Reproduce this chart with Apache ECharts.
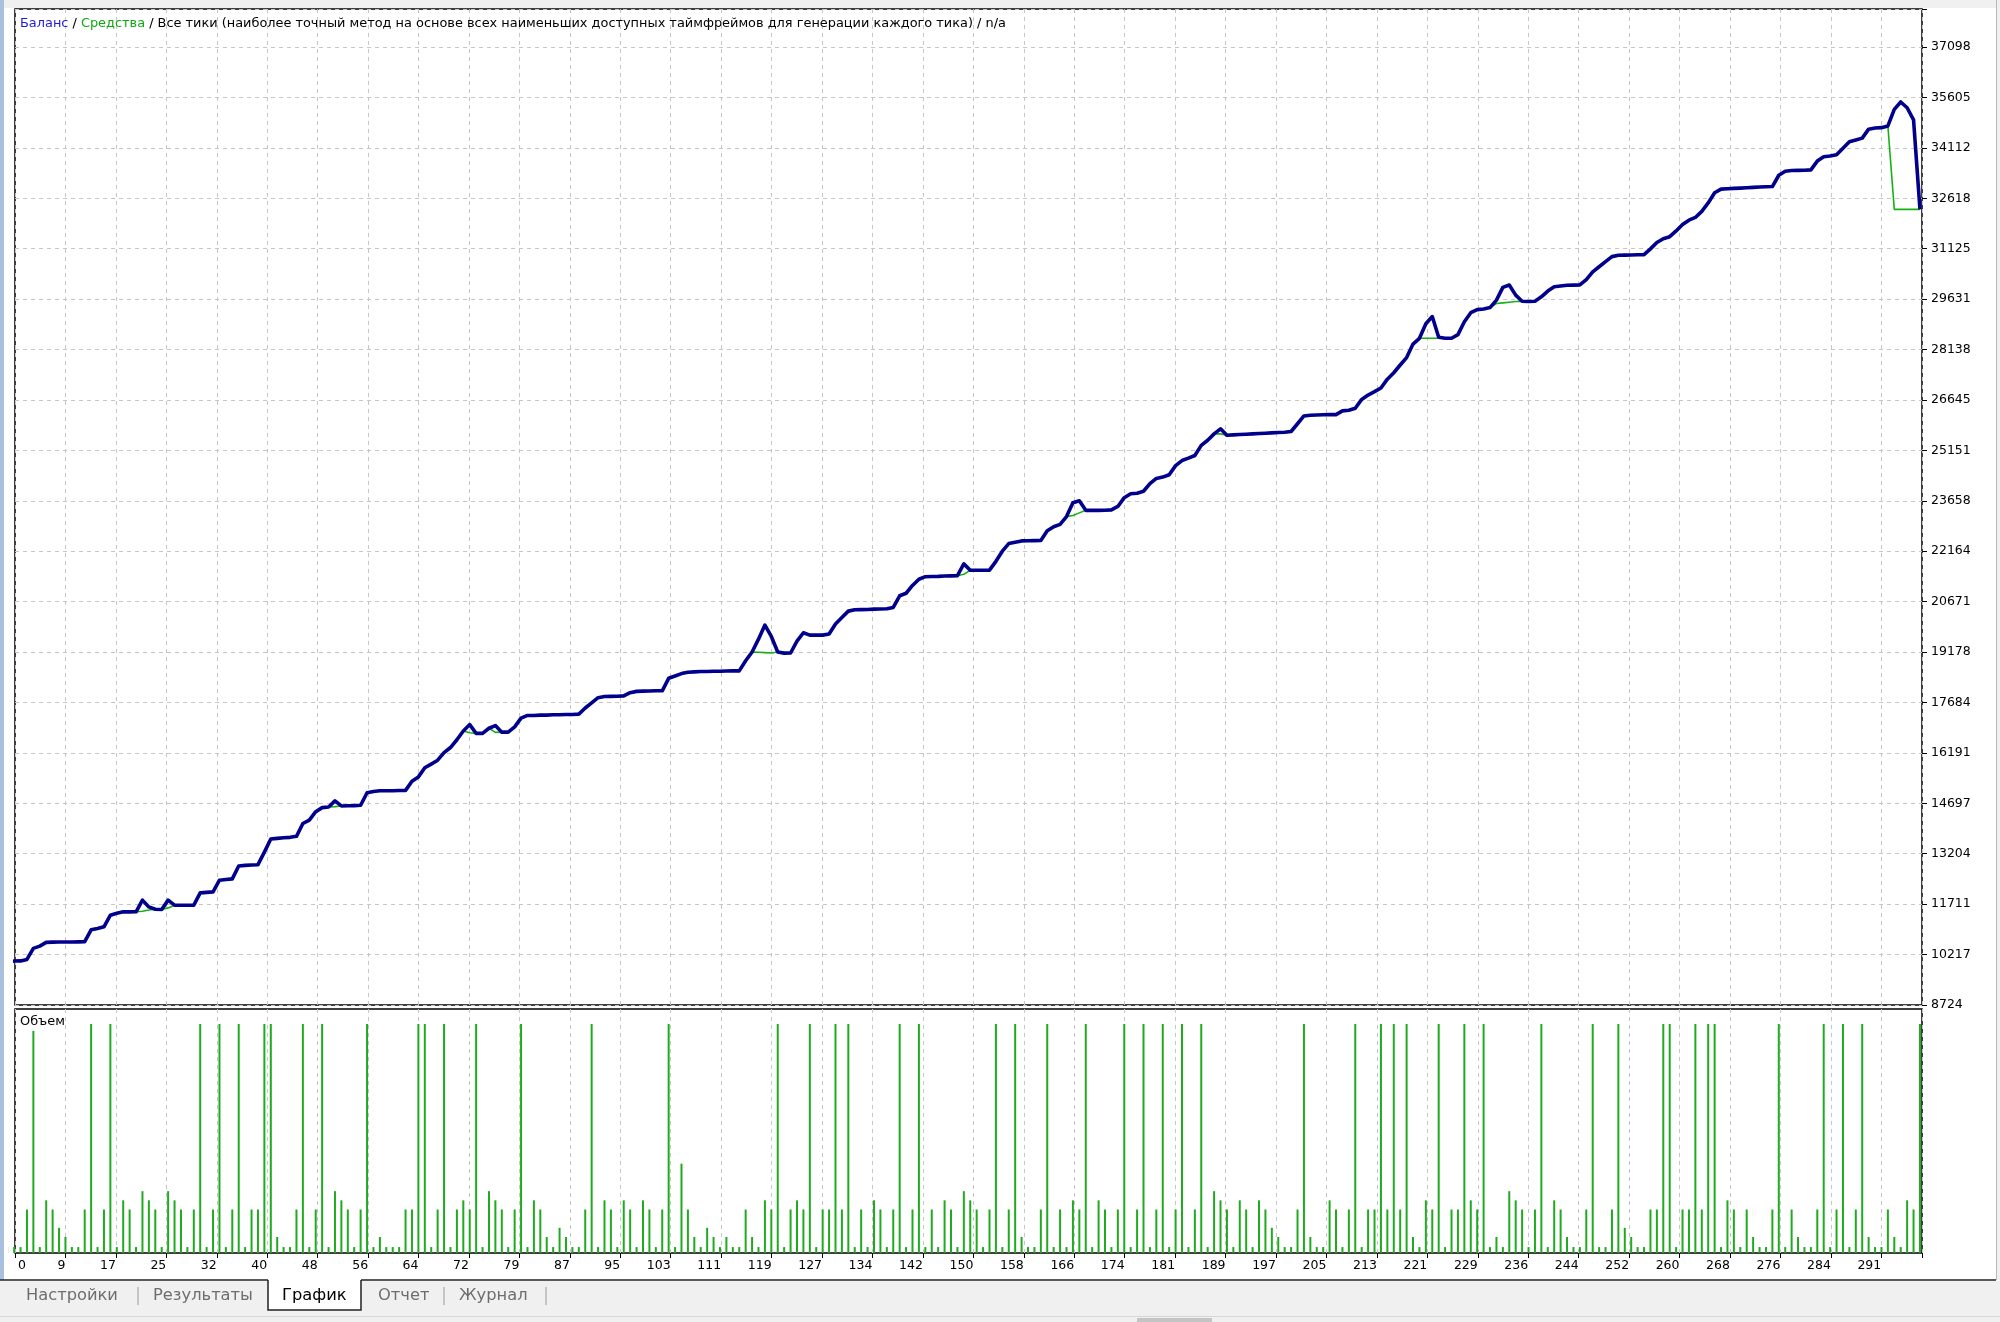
<!DOCTYPE html>
<html><head><meta charset="utf-8">
<script src="https://cdn.jsdelivr.net/npm/echarts@6/dist/echarts.min.js"></script>
<style>html,body{margin:0;padding:0;background:#fff;}#c{width:2000px;height:1322px;}</style>
</head><body><div id="c"></div>
<script>
const yTickLabels = ['8724','10217','11711','13204','14697','16191','17684','19178','20671','22164','23658','25151','26645','28138','29631','31125','32618','34112','35605','37098'];
const xTickLabels = ['0','9','17','25','32','40','48','56','64','72','79','87','95','103','111','119','127','134','142','150','158','166','174','181','189','197','205','213','221','229','236','244','252','260','268','276','284','291'];
const balance = [
10000,10025,10030,10075,10400,10468,10578,10585,10590,10590,
10590,10595,10600,10950,10990,11040,11385,11440,11483,11483,
11485,11830,11630,11560,11554,11830,11680,11680,11680,11680,
12045,12060,12075,12420,12440,12460,12840,12860,12870,12880,
13250,13640,13660,13680,13690,13720,14100,14200,14450,14570,
14590,14770,14620,14625,14630,14640,15010,15050,15068,15068,
15070,15075,15080,15350,15480,15750,15860,15975,16200,16350,
16580,16840,17030,16770,16770,16920,17000,16805,16805,16960,
17220,17300,17300,17310,17310,17320,17320,17330,17330,17340,
17520,17670,17825,17860,17865,17870,17880,17975,18013,18020,
18025,18030,18030,18400,18470,18540,18580,18590,18600,18600,
18610,18610,18615,18620,18620,18920,19180,19560,19976,19640,
19180,19146,19150,19500,19750,19680,19680,19680,19710,20010,
20200,20390,20430,20435,20440,20450,20455,20460,20500,20845,
20920,21150,21335,21410,21415,21420,21430,21435,21440,21790,
21600,21600,21600,21605,21865,22165,22390,22430,22470,22475,
22478,22480,22770,22890,22960,23190,23600,23660,23375,23375,
23375,23380,23390,23490,23750,23866,23880,23940,24165,24320,
24360,24430,24700,24850,24920,25000,25300,25450,25640,25790,
25600,25610,25620,25630,25640,25650,25660,25670,25680,25690,
25710,25940,26170,26190,26200,26205,26210,26210,26320,26340,
26400,26660,26790,26890,27000,27260,27450,27680,27900,28300,
28470,28900,29115,28500,28470,28472,28580,28960,29230,29320,
29340,29380,29600,29980,30050,29750,29570,29560,29570,29700,
29870,30000,30020,30040,30045,30050,30210,30440,30590,30740,
30890,30930,30935,30940,30945,30950,31120,31310,31420,31480,
31650,31840,31970,32050,32230,32480,32780,32890,32900,32910,
32920,32930,32940,32950,32960,32965,33300,33420,33440,33445,
33450,33460,33720,33850,33870,33910,34100,34290,34345,34400,
34665,34700,34710,34760,35250,35470,35300,34940,32290];
const equity = [
10000,10025,10030,10075,10400,10468,10578,10585,10590,10590,
10590,10595,10600,10950,10990,11040,11385,11440,11483,11483,
11485,11500,11540,11560,11554,11600,11680,11680,11680,11680,
12045,12060,12075,12420,12440,12460,12840,12860,12870,12880,
13250,13640,13660,13680,13690,13720,14100,14200,14450,14570,
14590,14600,14620,14625,14630,14640,15010,15050,15068,15068,
15070,15075,15080,15350,15480,15750,15860,15975,16200,16350,
16580,16840,16790,16770,16770,16920,16800,16805,16805,16960,
17220,17300,17300,17310,17310,17320,17320,17330,17330,17340,
17520,17670,17825,17860,17865,17870,17880,17975,18013,18020,
18025,18030,18030,18400,18470,18540,18580,18590,18600,18600,
18610,18610,18615,18620,18620,18920,19180,19170,19160,19150,
19180,19146,19150,19500,19750,19680,19680,19680,19710,20010,
20200,20390,20430,20435,20440,20450,20455,20460,20500,20845,
20920,21150,21335,21410,21415,21420,21430,21435,21440,21480,
21600,21600,21600,21605,21865,22165,22390,22430,22470,22475,
22478,22480,22770,22890,22960,23190,23220,23300,23375,23375,
23375,23380,23390,23490,23750,23866,23880,23940,24165,24320,
24360,24430,24700,24850,24920,25000,25300,25450,25640,25640,
25600,25610,25620,25630,25640,25650,25660,25670,25680,25690,
25710,25940,26170,26190,26200,26205,26210,26210,26320,26340,
26400,26660,26790,26890,27000,27260,27450,27680,27900,28300,
28470,28470,28470,28470,28470,28472,28580,28960,29230,29320,
29340,29380,29500,29520,29540,29560,29570,29560,29570,29700,
29870,30000,30020,30040,30045,30050,30210,30440,30590,30740,
30890,30930,30935,30940,30945,30950,31120,31310,31420,31480,
31650,31840,31970,32050,32230,32480,32780,32890,32900,32910,
32920,32930,32940,32950,32960,32965,33300,33420,33440,33445,
33450,33460,33720,33850,33870,33910,34100,34290,34345,34400,
34665,34700,34710,34760,32290,32290,32290,32290,32290];
const volume = [
2.6,2.6,2.6,19,97,2.6,23,19,11,7,
2.6,2.6,19,100,2.6,19,100,2.6,23,19,
2.6,27,23,19,2.6,27,23,19,2.6,19,
100,2.6,19,100,2.6,19,100,2.6,19,19,
100,100,7,2.6,2.6,19,100,2.6,19,100,
2.6,27,23,19,2.6,19,100,2.6,7,2.6,
2.6,2.6,19,19,100,100,2.6,19,100,2.6,
19,23,19,100,2.6,27,23,19,2.6,19,
100,2.6,23,19,7,2.6,11,7,2.6,2.6,
19,100,2.6,23,19,2.6,23,19,2.6,23,
19,2.6,19,100,2.6,39,19,7,2.6,11,
7,2.6,7,2.6,2.6,19,7,2.6,23,19,
100,2.6,19,23,19,100,2.6,19,19,100,
19,100,2.6,19,2.6,23,19,2.6,19,100,
2.6,19,100,2.6,19,2.6,23,19,2.6,27,
23,19,2.6,19,100,2.6,19,100,7,2.6,
2.6,19,100,2.6,19,2.6,23,19,100,2.6,
23,19,2.6,19,100,2.6,19,100,2.6,19,
100,2.6,19,100,2.6,19,100,2.6,27,23,
19,2.6,23,19,2.6,23,19,11,7,2.6,
2.6,19,100,7,2.6,2.6,23,19,2.6,19,
100,2.6,19,19,100,19,100,19,100,7,
2.6,23,19,100,2.6,19,19,100,23,19,
100,2.6,7,2.6,27,23,19,2.6,19,100,
2.6,23,19,7,2.6,2.6,19,100,2.6,2.6,
19,100,11,7,2.6,2.6,19,19,100,100,
2.6,19,19,100,19,100,100,2.6,23,19,
2.6,19,7,2.6,2.6,19,100,2.6,19,7,
2.6,2.6,19,100,2.6,19,100,2.6,19,100,
7,2.6,2.6,19,7,2.6,23,19,100];

// layout (pixels)
const L = 15, R = 1922, T = 9, B = 1005, VT = 1009, VB = 1253;
const W = R - L;
const X0 = 7.7, PX = 6.417;           // pixel of trade 0, pixels per trade
const XG = 50.44, YG = 50.42;         // grid spacing in pixels
const Y0 = 8724, YSTEP = 1493.37;
const xMin = (L - X0) / PX, xMax = (R - X0) / PX;
const yMax = Y0 + (B - T) / YG * YSTEP;
const volMax = 100 * (VB - VT) / (VB - 1024);
const FONT = 'DejaVu Sans';
const gridLine = {show: true, lineStyle: {color: '#c6c6c6', type: [4, 4], width: 1}};

const chart = echarts.init(document.getElementById('c'), null, {renderer: 'canvas'});
const tabs = [
  {t: 'Настройки', x: 26}, {t: 'Результаты', x: 153}, {t: 'График', x: 282, active: true},
  {t: 'Отчет', x: 378}, {t: 'Журнал', x: 459}
];
const graphic = [
  {type: 'rect', shape: {x: 0, y: 0, width: 2000, height: 8}, style: {fill: '#f0f0f0'}, silent: true},
  {type: 'rect', shape: {x: 0, y: 0, width: 4, height: 1280}, style: {fill: '#a9c1de'}, silent: true},
  {type: 'rect', shape: {x: 1997, y: 0, width: 3, height: 1280}, style: {fill: '#f0f0f0'}, silent: true},
  {type: 'line', shape: {x1: 1996.5, y1: 0, x2: 1996.5, y2: 1280}, style: {stroke: '#b8b8b8', lineWidth: 1}, silent: true},
  {type: 'rect', shape: {x: 0, y: 1281, width: 2000, height: 41}, style: {fill: '#f0f0f0'}, silent: true},
  {type: 'line', shape: {x1: 0, y1: 1316.5, x2: 2000, y2: 1316.5}, style: {stroke: '#d6d6d6', lineWidth: 1}, silent: true},
  {type: 'rect', shape: {x: 1137, y: 1318, width: 75, height: 4}, style: {fill: '#c4c4c4'}, silent: true},
  {type: 'line', shape: {x1: 0, y1: 1280, x2: 268, y2: 1280}, style: {stroke: '#222', lineWidth: 1.5}, silent: true},
  {type: 'line', shape: {x1: 361, y1: 1280, x2: 1996, y2: 1280}, style: {stroke: '#222', lineWidth: 1.5}, silent: true},
  {type: 'rect', shape: {x: 268, y: 1280, width: 93, height: 30}, style: {fill: '#ffffff', stroke: null}, silent: true},
  {type: 'polyline', shape: {points: [[268, 1280], [268, 1310], [361, 1310], [361, 1280]]}, style: {stroke: '#222', lineWidth: 1.5, fill: null}, silent: true},
  {type: 'line', shape: {x1: 138, y1: 1287, x2: 138, y2: 1305}, style: {stroke: '#9a9a9a', lineWidth: 1}, silent: true},
  {type: 'line', shape: {x1: 444, y1: 1287, x2: 444, y2: 1305}, style: {stroke: '#9a9a9a', lineWidth: 1}, silent: true},
  {type: 'line', shape: {x1: 546, y1: 1287, x2: 546, y2: 1305}, style: {stroke: '#9a9a9a', lineWidth: 1}, silent: true},
  {type: 'text', x: 18, y: 1266, style: {text: xTickLabels[0], font: '12.5px "' + FONT + '"', fill: '#000', align: 'left', verticalAlign: 'middle'}, silent: true},
  {type: 'text', x: 20, y: 1022, style: {text: 'Объем', font: '12.9px "' + FONT + '"', fill: '#000', align: 'left', verticalAlign: 'middle'}, silent: true}
];
tabs.forEach(tb => graphic.push({type: 'text', x: tb.x, y: 1296, style: {text: tb.t, font: '16.3px "' + FONT + '"', fill: tb.active ? '#000' : '#6e6e6e', align: 'left', verticalAlign: 'middle'}, silent: true}));

chart.setOption({
  animation: false,
  backgroundColor: '#ffffff',
  title: {
    text: '{b|Баланс} / {g|Средства} / Все тики (наиболее точный метод на основе всех наименьших доступных таймфреймов для генерации каждого тика) / n/a',
    left: 20, top: 17, padding: 0,
    textStyle: {fontFamily: FONT, fontSize: 12.9, fontWeight: 'normal', color: '#000',
      rich: {b: {fontFamily: FONT, fontSize: 12.9, color: '#1c1cd8'}, g: {fontFamily: FONT, fontSize: 12.9, color: '#10a810'}}}
  },
  grid: [
    {left: L, top: T, width: W, height: B - T, show: true, borderColor: '#000', borderWidth: 1.5, backgroundColor: '#fff'},
    {left: L, top: VT, width: W, height: VB - VT, show: true, borderColor: '#000', borderWidth: 1.5, backgroundColor: '#fff'}
  ],
  xAxis: [
    {gridIndex: 0, type: 'value', min: xMin, max: xMax, show: false},
    {gridIndex: 1, type: 'value', min: xMin, max: xMax, show: false},
    {gridIndex: 0, type: 'value', min: 0, max: W, interval: XG, axisLine: {show: false}, axisTick: {show: false}, axisLabel: {show: false}, splitLine: gridLine},
    {gridIndex: 1, type: 'value', min: 0, max: W, interval: XG, position: 'bottom',
      axisLine: {show: false}, axisTick: {show: true, length: 5, lineStyle: {color: '#000', width: 1}},
      axisLabel: {show: true, align: 'right', margin: 6, fontFamily: FONT, fontSize: 12.5, color: '#000',
        formatter: v => { const k = Math.round(v / XG); return k === 0 ? '' : (xTickLabels[k] || ''); }},
      splitLine: gridLine}
  ],
  yAxis: [
    {gridIndex: 0, type: 'value', min: Y0, max: yMax, show: false},
    {gridIndex: 1, type: 'value', min: 0, max: volMax, show: false},
    {gridIndex: 0, type: 'value', min: 0, max: (B - T) / YG, interval: 1, position: 'right',
      axisLine: {show: false}, axisTick: {show: true, length: 5, lineStyle: {color: '#000', width: 1}},
      axisLabel: {margin: 9, fontFamily: FONT, fontSize: 12.5, color: '#000',
        formatter: v => yTickLabels[Math.round(v)] || ''},
      splitLine: gridLine}
  ],
  series: [
    {type: 'bar', xAxisIndex: 1, yAxisIndex: 1, data: volume.map((v, i) => [i, v]), barWidth: 2,
      itemStyle: {color: '#1faa1f'}, silent: true},
    {type: 'line', xAxisIndex: 0, yAxisIndex: 0, data: equity.map((v, i) => [i, v]), showSymbol: false,
      lineStyle: {color: '#16b016', width: 1.6}, z: 2, silent: true},
    {type: 'line', xAxisIndex: 0, yAxisIndex: 0, data: balance.map((v, i) => [i, v]), showSymbol: false,
      lineStyle: {color: '#00008c', width: 3.6, join: 'round'}, z: 3, silent: true}
  ],
  graphic: graphic
});
</script></body></html>
